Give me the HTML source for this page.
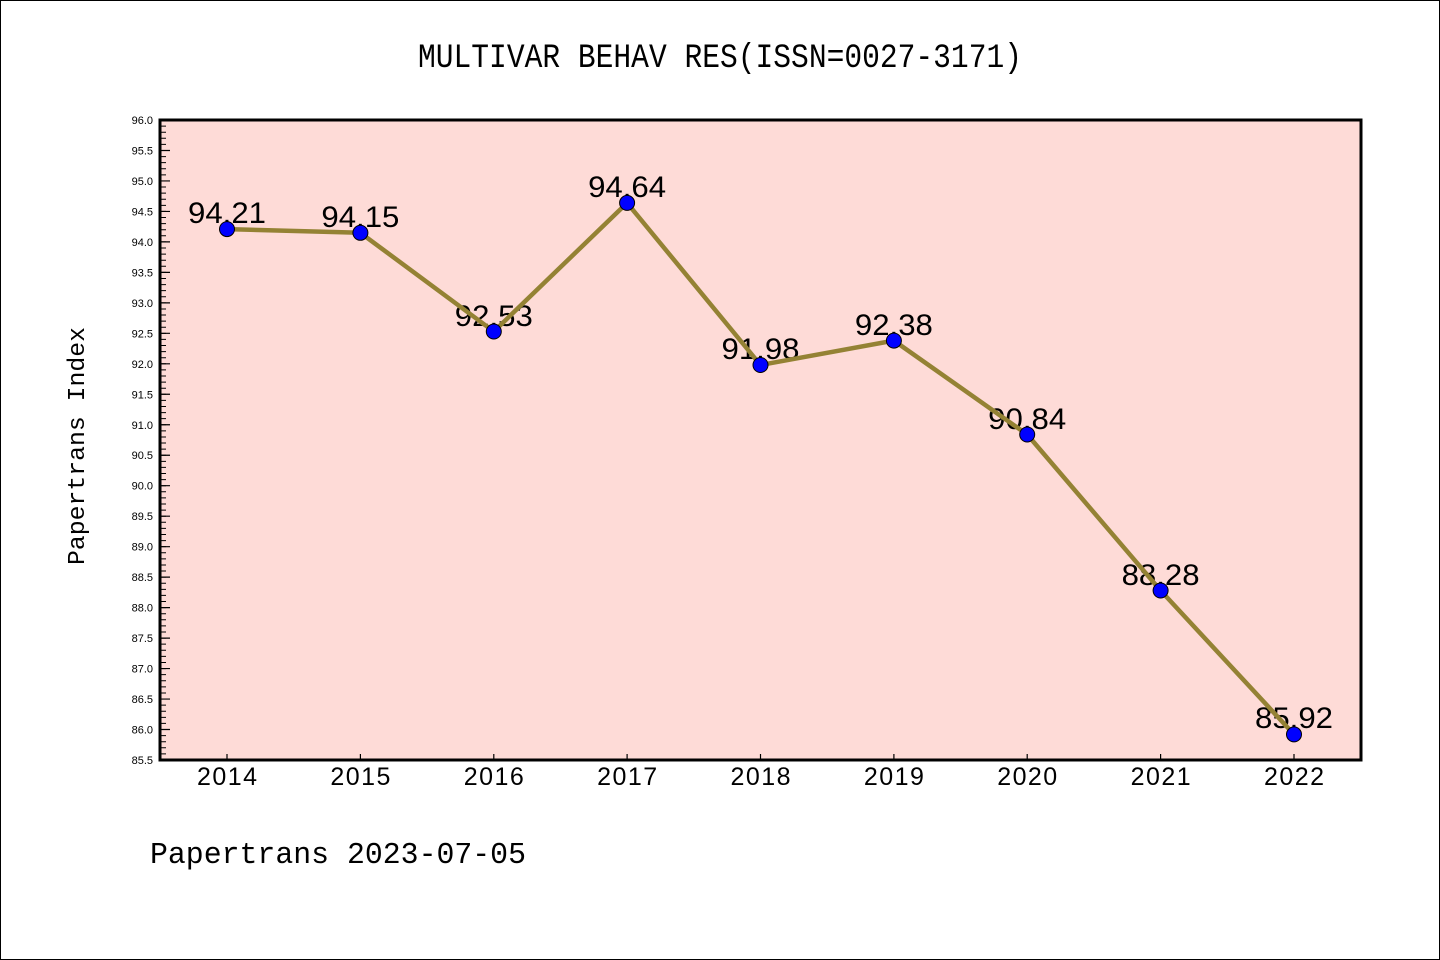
<!DOCTYPE html>
<html><head><meta charset="utf-8"><style>
html,body{margin:0;padding:0;background:#fff;}
svg{display:block;}
text{font-family:"Liberation Sans","WenQuanYi Zen Hei",sans-serif;fill:#000;}
.m{font-family:"Liberation Mono",monospace;}
</style></head><body>
<svg width="1440" height="960" viewBox="0 0 1440 960" xmlns="http://www.w3.org/2000/svg">
<rect x="0.5" y="0.5" width="1439" height="959" fill="#fff" stroke="#000" stroke-width="1"/>
<text class="m" x="418" y="67" font-size="34" textLength="604" lengthAdjust="spacingAndGlyphs">MULTIVAR BEHAV RES(ISSN=0027-3171)</text>
<rect x="160" y="120" width="1201" height="640" fill="#fedbd7"/>
<line x1="163" y1="120" x2="163" y2="760" stroke="#000" stroke-width="6" stroke-dasharray="1 5.0952" stroke-dashoffset="0.5"/>
<line x1="165" y1="120" x2="165" y2="760" stroke="#000" stroke-width="10" stroke-dasharray="1.2 29.276" stroke-dashoffset="0.6"/>
<g stroke="#000" stroke-width="1.2">
<line x1="227" y1="760" x2="227" y2="754"/><line x1="360.4" y1="760" x2="360.4" y2="754"/><line x1="493.8" y1="760" x2="493.8" y2="754"/><line x1="627.1" y1="760" x2="627.1" y2="754"/><line x1="760.5" y1="760" x2="760.5" y2="754"/><line x1="893.9" y1="760" x2="893.9" y2="754"/><line x1="1027.2" y1="760" x2="1027.2" y2="754"/><line x1="1160.6" y1="760" x2="1160.6" y2="754"/><line x1="1294" y1="760" x2="1294" y2="754"/>
</g>
<rect x="160" y="120" width="1201" height="640" fill="none" stroke="#000" stroke-width="3"/>
<g font-size="11" text-anchor="end">
<text x="153" y="124">96.0</text><text x="153" y="154.5">95.5</text><text x="153" y="185">95.0</text><text x="153" y="215.4">94.5</text><text x="153" y="245.9">94.0</text><text x="153" y="276.4">93.5</text><text x="153" y="306.9">93.0</text><text x="153" y="337.3">92.5</text><text x="153" y="367.8">92.0</text><text x="153" y="398.3">91.5</text><text x="153" y="428.8">91.0</text><text x="153" y="459.2">90.5</text><text x="153" y="489.7">90.0</text><text x="153" y="520.2">89.5</text><text x="153" y="550.7">89.0</text><text x="153" y="581.1">88.5</text><text x="153" y="611.6">88.0</text><text x="153" y="642.1">87.5</text><text x="153" y="672.6">87.0</text><text x="153" y="703">86.5</text><text x="153" y="733.5">86.0</text><text x="153" y="764">85.5</text>
</g>
<g font-size="25" text-anchor="middle" lengthAdjust="spacingAndGlyphs">
<text x="227" y="785" textLength="60">2014</text><text x="360.4" y="785" textLength="60">2015</text><text x="493.8" y="785" textLength="60">2016</text><text x="627.1" y="785" textLength="60">2017</text><text x="760.5" y="785" textLength="60">2018</text><text x="893.9" y="785" textLength="60">2019</text><text x="1027.2" y="785" textLength="60">2020</text><text x="1160.6" y="785" textLength="60">2021</text><text x="1294" y="785" textLength="60">2022</text>
</g>
<text class="m" x="0" y="0" font-size="24" transform="translate(84,565) rotate(-90)" textLength="238" lengthAdjust="spacingAndGlyphs">Papertrans Index</text>
<text class="m" x="150" y="863" font-size="31" textLength="376" lengthAdjust="spacingAndGlyphs">Papertrans 2023-07-05</text>
<g font-size="30" text-anchor="middle">
<text x="227" y="223" textLength="78" lengthAdjust="spacingAndGlyphs">94.21</text><text x="360.4" y="227" textLength="78" lengthAdjust="spacingAndGlyphs">94.15</text><text x="493.8" y="326" textLength="78" lengthAdjust="spacingAndGlyphs">92.53</text><text x="627.1" y="197" textLength="78" lengthAdjust="spacingAndGlyphs">94.64</text><text x="760.5" y="359" textLength="78" lengthAdjust="spacingAndGlyphs">91.98</text><text x="893.9" y="335" textLength="78" lengthAdjust="spacingAndGlyphs">92.38</text><text x="1027.2" y="429" textLength="78" lengthAdjust="spacingAndGlyphs">90.84</text><text x="1160.6" y="585" textLength="78" lengthAdjust="spacingAndGlyphs">88.28</text><text x="1294" y="728" textLength="78" lengthAdjust="spacingAndGlyphs">85.92</text>
</g>
<polyline points="227,229.1 360.4,232.8 493.8,331.5 627.1,202.9 760.5,365 893.9,340.6 1027.2,434.5 1160.6,590.5 1294,734.4" fill="none" stroke="#948234" stroke-width="4.5" stroke-linejoin="round"/>
<g fill="#0000ff" stroke="#000" stroke-width="1">
<circle cx="227" cy="229.1" r="7.5"/><circle cx="360.4" cy="232.8" r="7.5"/><circle cx="493.8" cy="331.5" r="7.5"/><circle cx="627.1" cy="202.9" r="7.5"/><circle cx="760.5" cy="365" r="7.5"/><circle cx="893.9" cy="340.6" r="7.5"/><circle cx="1027.2" cy="434.5" r="7.5"/><circle cx="1160.6" cy="590.5" r="7.5"/><circle cx="1294" cy="734.4" r="7.5"/>
</g>
</svg>
</body></html>
